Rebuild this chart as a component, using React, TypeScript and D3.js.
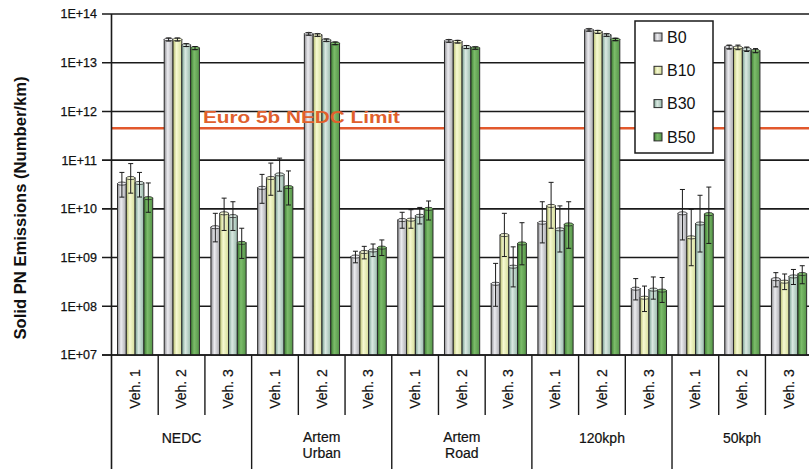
import React from "react";
import * as d3 from "d3";

const groups = ["NEDC", "Artem\nUrban", "Artem\nRoad", "120kph", "50kph"];
const vehicles = ["Veh. 1", "Veh. 2", "Veh. 3"];
const seriesNames = ["B0", "B10", "B30", "B50"];

// values per category (group x vehicle), 15 each
const b0 = [3.3e10, 3.0e13, 4.2e9, 2.7e10, 3.9e13, 1.05e9, 5.9e9, 2.8e13, 2.9e8, 5.2e9, 4.7e13, 2.3e8, 8.1e9, 2.1e13, 3.6e8];
const b0Hi = [5.6e10, 3.2e13, 8.1e9, 5.1e10, 4.1e13, 1.35e9, 8.5e9, 2.95e13, 7.6e8, 1.4e10, 4.9e13, 3.7e8, 2.5e10, 2.3e13, 4.9e8];
const b0Lo = [1.74e10, 2.8e13, 2.1e9, 1.3e10, 3.7e13, 7.8e8, 4e9, 2.65e13, 1e8, 2e9, 4.5e13, 1.35e8, 2.3e9, 1.9e13, 2.5e8];

const b10 = [4.3e10, 3.0e13, 8.1e9, 4.3e10, 3.7e13, 1.3e9, 6e9, 2.7e13, 2.9e9, 1.15e10, 4.3e13, 1.5e8, 2.6e9, 2.05e13, 3.2e8];
const b10Hi = [8.5e10, 3.2e13, 1.66e10, 8.7e10, 3.9e13, 1.7e9, 9.6e9, 2.85e13, 8.1e9, 3.5e10, 4.6e13, 2.6e8, 9.8e9, 2.3e13, 4.6e8];
const b10Lo = [2.1e10, 2.8e13, 3.6e9, 1.9e10, 3.5e13, 9.4e8, 4e9, 2.55e13, 1.05e9, 4e9, 4.0e13, 7.8e7, 6.8e8, 1.85e13, 2.2e8];

const b30 = [3.4e10, 2.3e13, 7.1e9, 5.1e10, 2.9e13, 1.4e9, 7.2e9, 2.1e13, 6.5e8, 3.8e9, 3.7e13, 2.2e8, 5e9, 1.9e13, 4.1e8];
const b30Hi = [5.6e10, 2.45e13, 1.4e10, 1.1e11, 3.05e13, 1.9e9, 1.07e10, 2.25e13, 1.66e9, 1.15e10, 3.9e13, 4e8, 1.9e10, 2.1e13, 5.7e8];
const b30Lo = [1.75e10, 2.15e13, 3.6e9, 2.3e10, 2.75e13, 1.05e9, 4.9e9, 1.95e13, 2.5e8, 1.3e9, 3.5e13, 1.4e8, 1.3e9, 1.7e13, 2.8e8];

const b50 = [1.66e10, 2.0e13, 2.0e9, 2.8e10, 2.5e13, 1.6e9, 1.0e10, 2.0e13, 1.95e9, 4.8e9, 3.0e13, 2.1e8, 7.8e9, 1.75e13, 4.6e8];
const b50Hi = [3.4e10, 2.15e13, 4.0e9, 6e10, 2.65e13, 2.3e9, 1.45e10, 2.1e13, 5.2e9, 1.4e10, 3.15e13, 3.9e8, 2.8e10, 1.95e13, 6.8e8];
const b50Lo = [8.5e9, 1.85e13, 9.6e8, 1.2e10, 2.35e13, 1.1e9, 5.9e9, 1.9e13, 7.1e8, 1.55e9, 2.85e13, 1.2e8, 1.95e9, 1.6e13, 2.9e8];

const yTicks = [1e7, 1e8, 1e9, 1e10, 1e11, 1e12, 1e13, 1e14];
const tickLabels = ["1E+07", "1E+08", "1E+09", "1E+10", "1E+11", "1E+12", "1E+13", "1E+14"];
const limitValue = 4.5e11;
const limitLabel = "Euro 5b NEDC Limit";
const yTitle = "Solid PN Emissions (Number/km)";

const series = [
  { name: seriesNames[0], v: b0, hi: b0Hi, lo: b0Lo, c: ["#8e8e92", "#ececf0", "#a8a8ac"] },
  { name: seriesNames[1], v: b10, hi: b10Hi, lo: b10Lo, c: ["#b8c070", "#f6f9d2", "#d4dc98"] },
  { name: seriesNames[2], v: b30, hi: b30Hi, lo: b30Lo, c: ["#78a090", "#dae9e2", "#98b8aa"] },
  { name: seriesNames[3], v: b50, hi: b50Hi, lo: b50Lo, c: ["#3a7a30", "#7cbc6a", "#559548"] },
];

export default function App() {
  const W = 809, H = 469;
  const x0 = 111.5;
  const catW = 46.71;
  const nCat = groups.length * vehicles.length;
  const cats = d3.range(nCat);
  const x = d3.scaleBand<number>().domain(cats).range([x0, x0 + nCat * catW]).paddingInner(0).paddingOuter(0);
  const y = d3.scaleLog().domain([1e7, 1e14]).range([355, 14]);
  const inner = d3.scaleBand<number>().domain([0, 1, 2, 3]).range([6, catW - 5.5]).padding(0);
  const bw = inner.bandwidth();
  const yBase = y(1e7);

  return (
    <svg width={W} height={H} style={{ position: "absolute", left: 0, top: 0, background: "#fff" }}
      fontFamily="'Liberation Sans', Arial, sans-serif">
      <defs>
        {series.map((s, i) => (
          <linearGradient key={i} id={`g${i}`} x1="0" x2="1" y1="0" y2="0">
            <stop offset="0%" stopColor={s.c[0]} />
            <stop offset="40%" stopColor={s.c[1]} />
            <stop offset="100%" stopColor={s.c[2]} />
          </linearGradient>
        ))}
        <clipPath id="plotclip"><rect x={0} y={0} width={W} height={H} /></clipPath>
      </defs>
      <rect x={0} y={0} width={W} height={H} fill="#fff" />
      {/* gridlines + ticks */}
      {yTicks.map((t, i) => (
        <g key={i}>
          <line x1={102} x2={W} y1={y(t)} y2={y(t)} stroke="#1a1a1a" strokeWidth={1.6} />
          <text x={97} y={y(t)} dy="0.35em" textAnchor="end" fontSize={12.5} fill="#111" stroke="#111" strokeWidth={0.25}>{tickLabels[i]}</text>
        </g>
      ))}
      {/* limit line */}
      <line x1={x0} x2={W} y1={y(limitValue)} y2={y(limitValue)} stroke="#e2582c" strokeWidth={2.6} />
      {/* bars */}
      <g clipPath="url(#plotclip)">
        {cats.map((ci) => (
          <g key={ci} transform={`translate(${x(ci)},0)`}>
            {series.map((s, si) => {
              const bx = inner(si)!;
              const top = y(s.v[ci]);
              return (
                <g key={si}>
                  <rect x={bx} y={top} width={bw} height={yBase - top} fill={`url(#g${si})`} stroke="#2a2a2a" strokeWidth={1} />
                  <ellipse cx={bx + bw / 2} cy={top} rx={bw / 2} ry={1.6} fill={s.c[1]} stroke="#2a2a2a" strokeWidth={0.8} />
                  <line x1={bx + bw / 2} x2={bx + bw / 2} y1={y(s.hi[ci])} y2={y(s.lo[ci])} stroke="#1a1a1a" strokeWidth={1} />
                  <line x1={bx + bw / 2 - 2.5} x2={bx + bw / 2 + 2.5} y1={y(s.hi[ci])} y2={y(s.hi[ci])} stroke="#1a1a1a" strokeWidth={1} />
                  <line x1={bx + bw / 2 - 2.5} x2={bx + bw / 2 + 2.5} y1={y(s.lo[ci])} y2={y(s.lo[ci])} stroke="#1a1a1a" strokeWidth={1} />
                </g>
              );
            })}
          </g>
        ))}
      </g>
      {/* axes lines */}
      <line x1={x0} x2={x0} y1={y(1e14)} y2={H} stroke="#1a1a1a" strokeWidth={1.6} />
      <line x1={102} x2={W} y1={yBase} y2={yBase} stroke="#1a1a1a" strokeWidth={1.6} />
      {cats.map((ci) => {
        const isGroup = ci % vehicles.length === 0;
        if (ci === 0) return null;
        return <line key={ci} x1={x(ci)!} x2={x(ci)!} y1={yBase} y2={isGroup ? H : 415} stroke="#1a1a1a" strokeWidth={1.4} />;
      })}
      {/* vehicle labels */}
      {cats.map((ci) => {
        const cx = x(ci)! + catW / 2;
        return (
          <text key={ci} transform={`translate(${cx},389) rotate(-90)`} textAnchor="middle" dy="0.35em" fontSize={14} fill="#111" stroke="#111" strokeWidth={0.2}>
            {vehicles[ci % vehicles.length]}
          </text>
        );
      })}
      {/* group labels */}
      {groups.map((g, gi) => {
        const cx = x(gi * 3)! + (catW * 3) / 2;
        const lines = g.split("\n");
        return (
          <text key={gi} x={cx} textAnchor="middle" fontSize={14} fill="#111" stroke="#111" strokeWidth={0.2}>
            {lines.map((l, li) => (
              <tspan key={li} x={cx} y={lines.length === 1 ? 443 : 442 + li * 16}>{l}</tspan>
            ))}
          </text>
        );
      })}
      {/* limit label */}
      <text x={203} y={123} fontSize={16} fontWeight="bold" fill="#e0602c" textLength={197} lengthAdjust="spacingAndGlyphs">{limitLabel}</text>
      {/* y title */}
      <text transform={`translate(26,208) rotate(-90)`} textAnchor="middle" fontSize={16} fontWeight="bold" fill="#111"
        textLength={263} lengthAdjust="spacingAndGlyphs">{yTitle}</text>
      {/* legend */}
      <rect x={635} y={21} width={78} height={132} fill="#fff" stroke="#1a1a1a" strokeWidth={1.5} />
      {series.map((s, si) => {
        const ly = 37 + si * 33.3;
        return (
          <g key={si}>
            <rect x={654} y={ly - 4} width={8} height={8} fill={`url(#g${si})`} stroke="#2a2a2a" strokeWidth={1} />
            <text x={667} y={ly} dy="0.36em" fontSize={16} fill="#111">{s.name}</text>
          </g>
        );
      })}
    </svg>
  );
}
